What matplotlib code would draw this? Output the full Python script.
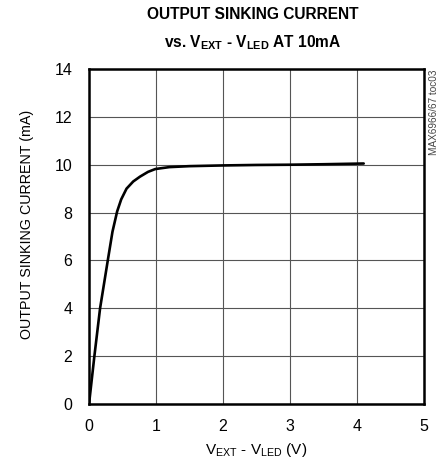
import matplotlib.pyplot as plt

plt.rcParams['font.family'] = ['Liberation Sans', 'DejaVu Sans']
plt.rcParams['mathtext.fontset'] = 'custom'
plt.rcParams['mathtext.rm'] = 'Liberation Sans'
plt.rcParams['mathtext.bf'] = 'Liberation Sans:bold'

# curve
v_diff = [0.0, 0.02, 0.08, 0.165, 0.28, 0.35, 0.42, 0.48, 0.56, 0.66, 0.76, 0.88, 0.99,
          1.2, 1.5, 2.0, 2.5, 3.0, 3.5, 4.1]
i_sink = [0.0, 0.5, 2.0, 4.0, 6.0, 7.2, 8.05, 8.55, 9.0, 9.3, 9.5, 9.7, 9.82,
          9.9, 9.94, 9.97, 9.99, 10.0, 10.02, 10.05]

x_ticks = [0, 1, 2, 3, 4, 5]
y_ticks = [0, 2, 4, 6, 8, 10, 12, 14]

fig = plt.figure(figsize=(4.46, 4.70), dpi=100)
ax = fig.add_axes([0.1996, 0.1404, 0.7511, 0.7128])

ax.plot(v_diff, i_sink, color='black', lw=1.9, solid_capstyle='round')

ax.set_xlim(0, 5)
ax.set_ylim(0, 14)
ax.set_xticks(x_ticks)
ax.set_yticks(y_ticks)
ax.tick_params(labelsize=11.5, length=0)
ax.tick_params(axis='y', pad=12)
ax.tick_params(axis='x', pad=11)
ax.grid(True, color='#555555', lw=0.8)
for s in ax.spines.values():
    s.set_linewidth(1.8)

ax.set_xlabel(r'V$_{\mathrm{EXT}}$ - V$_{\mathrm{LED}}$ (V)', fontsize=11, labelpad=5)
ax.set_ylabel('OUTPUT SINKING CURRENT (mA)', fontsize=10.3)
ax.yaxis.set_label_coords(-0.165, 0.535)

fig.text(0.567, 0.985, 'OUTPUT SINKING CURRENT', ha='center', va='top',
         fontsize=11.2, fontweight='bold')
fig.text(0.567, 0.93, r'vs. V$_{\mathbf{EXT}}$ - V$_{\mathbf{LED}}$ AT 10mA', ha='center', va='top',
         fontsize=11.2, fontweight='bold')
fig.text(0.972, 0.853, 'MAX6966/67 toc03', rotation=90, ha='center', va='top',
         fontsize=7.2, color='#444444')

fig.savefig('out.png', dpi=100)
